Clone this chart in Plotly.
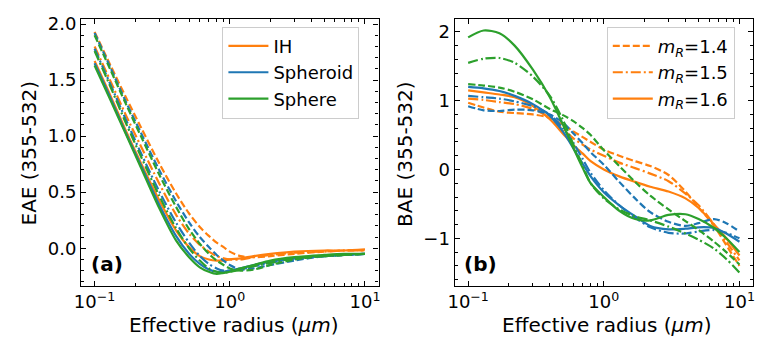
import plotly.graph_objects as go

# ---------------- data ----------------
r_a = [0.1, 0.13, 0.17, 0.22, 0.3, 0.4, 0.5, 0.6, 0.7, 0.8, 0.9, 1.0, 1.2, 1.5, 2, 3, 5, 7, 10]

eae_ih_14 = [1.93, 1.64, 1.35, 1.08, 0.76, 0.49, 0.31, 0.19, 0.11, 0.05, 0.01, -0.03, -0.07, -0.08, -0.07, -0.05, -0.03, -0.02, -0.02]
eae_ih_15 = [1.80, 1.50, 1.19, 0.91, 0.58, 0.30, 0.13, 0.03, -0.03, -0.07, -0.09, -0.10, -0.10, -0.08, -0.06, -0.04, -0.03, -0.02, -0.02]
eae_ih_16 = [1.67, 1.37, 1.05, 0.76, 0.43, 0.16, 0.01, -0.07, -0.10, -0.11, -0.11, -0.10, -0.09, -0.07, -0.05, -0.03, -0.02, -0.02, -0.01]
eae_sd_14 = [1.92, 1.62, 1.31, 1.03, 0.70, 0.42, 0.23, 0.10, 0.01, -0.06, -0.11, -0.15, -0.19, -0.18, -0.15, -0.11, -0.07, -0.06, -0.05]
eae_sd_15 = [1.78, 1.47, 1.15, 0.85, 0.51, 0.23, 0.05, -0.07, -0.14, -0.18, -0.20, -0.20, -0.19, -0.16, -0.13, -0.09, -0.07, -0.06, -0.05]
eae_sd_16 = [1.65, 1.35, 1.03, 0.74, 0.39, 0.11, -0.05, -0.14, -0.19, -0.21, -0.21, -0.20, -0.18, -0.15, -0.12, -0.09, -0.07, -0.06, -0.05]
eae_sp_14 = [1.90, 1.60, 1.29, 1.00, 0.66, 0.37, 0.17, 0.04, -0.05, -0.11, -0.15, -0.18, -0.20, -0.19, -0.15, -0.10, -0.07, -0.06, -0.05]
eae_sp_15 = [1.76, 1.45, 1.12, 0.82, 0.47, 0.18, 0.00, -0.11, -0.18, -0.21, -0.22, -0.21, -0.19, -0.16, -0.13, -0.09, -0.07, -0.06, -0.05]
eae_sp_16 = [1.63, 1.33, 1.02, 0.72, 0.36, 0.07, -0.08, -0.17, -0.21, -0.23, -0.22, -0.21, -0.18, -0.15, -0.11, -0.08, -0.06, -0.05, -0.05]

r_b = [0.1, 0.13, 0.17, 0.22, 0.3, 0.4, 0.5, 0.6, 0.7, 0.8, 1.0, 1.3, 1.7, 2.2, 3, 4, 5, 6.5, 8, 10]

bae_ih_14 = [0.97, 0.90, 0.84, 0.82, 0.80, 0.75, 0.65, 0.55, 0.47, 0.40, 0.29, 0.20, 0.12, 0.05, -0.08, -0.32, -0.55, -0.82, -1.10, -1.40]
bae_ih_15 = [1.03, 1.01, 0.98, 0.95, 0.88, 0.75, 0.58, 0.45, 0.36, 0.29, 0.20, 0.10, 0.02, -0.06, -0.17, -0.35, -0.52, -0.80, -1.05, -1.32]
bae_ih_16 = [1.15, 1.12, 1.09, 1.05, 0.92, 0.73, 0.52, 0.35, 0.23, 0.12, 0.00, -0.10, -0.18, -0.25, -0.32, -0.42, -0.56, -0.80, -1.00, -1.25]
bae_sd_14 = [0.92, 0.86, 0.85, 0.87, 0.86, 0.80, 0.68, 0.52, 0.38, 0.25, 0.07, -0.18, -0.42, -0.62, -0.76, -0.82, -0.78, -0.72, -0.78, -0.90]
bae_sd_15 = [1.07, 1.05, 1.03, 0.99, 0.92, 0.80, 0.60, 0.38, 0.15, -0.05, -0.30, -0.52, -0.70, -0.84, -0.92, -0.93, -0.90, -0.88, -0.92, -1.00]
bae_sd_16 = [1.20, 1.18, 1.14, 1.07, 0.95, 0.78, 0.55, 0.30, 0.08, -0.10, -0.33, -0.52, -0.68, -0.82, -0.87, -0.86, -0.84, -0.85, -0.93, -1.05]
bae_sp_14 = [1.24, 1.22, 1.19, 1.13, 1.02, 0.88, 0.79, 0.70, 0.60, 0.50, 0.28, 0.05, -0.18, -0.38, -0.58, -0.75, -0.88, -1.05, -1.20, -1.38]
bae_sp_15 = [1.55, 1.61, 1.62, 1.55, 1.35, 1.07, 0.72, 0.35, 0.05, -0.20, -0.42, -0.58, -0.68, -0.74, -0.83, -0.93, -1.02, -1.15, -1.30, -1.50]
bae_sp_16 = [1.92, 2.02, 1.98, 1.80, 1.45, 1.05, 0.65, 0.30, 0.02, -0.20, -0.40, -0.60, -0.72, -0.74, -0.66, -0.65, -0.72, -0.85, -1.00, -1.20]

shape_names = ["IH", "Spheroid", "Sphere"]
mr_names = ["<i>m</i><sub><i>R</i></sub>=1.4", "<i>m</i><sub><i>R</i></sub>=1.5", "<i>m</i><sub><i>R</i></sub>=1.6"]

# ---------------- style ----------------
colors = ["#ff7f0e", "#1f77b4", "#2ca02c"]
dashes = ["7px,3px", "10px,3px,2px,3px", "solid"]
FONT = "DejaVu Sans"

eae = [[eae_ih_14, eae_ih_15, eae_ih_16],
       [eae_sd_14, eae_sd_15, eae_sd_16],
       [eae_sp_14, eae_sp_15, eae_sp_16]]
bae = [[bae_ih_14, bae_ih_15, bae_ih_16],
       [bae_sd_14, bae_sd_15, bae_sd_16],
       [bae_sp_14, bae_sp_15, bae_sp_16]]

fig = go.Figure()

for i in range(3):
    for j in range(3):
        fig.add_trace(go.Scatter(
            x=r_a, y=eae[i][j], mode="lines", xaxis="x", yaxis="y",
            line=dict(color=colors[i], width=2.2, dash=dashes[j], shape="spline", smoothing=0.8),
            name=shape_names[i], showlegend=(j == 2), legend="legend"))
for i in range(3):
    for j in range(3):
        fig.add_trace(go.Scatter(
            x=r_b, y=bae[i][j], mode="lines", xaxis="x2", yaxis="y2",
            line=dict(color=colors[i], width=2.2, dash=dashes[j], shape="spline", smoothing=0.8),
            name=mr_names[j], showlegend=(i == 0), legend="legend2"))

minor_x = [0.2, 0.3, 0.4, 0.5, 0.6, 0.7, 0.8, 0.9, 2, 3, 4, 5, 6, 7, 8, 9]

def xaxis_cfg(domain, anchor):
    return dict(
        type="log", domain=domain, anchor=anchor, range=[-1.1, 1.1],
        showline=True, linecolor="black", linewidth=1.2, mirror="allticks",
        ticks="inside", ticklen=5, tickwidth=1, tickcolor="black",
        tickmode="array", tickvals=[0.1, 1, 10],
        ticktext=["10<sup>−1</sup>", "10<sup>0</sup>", "10<sup>1</sup>"],
        tickfont=dict(family=FONT, size=18, color="black"),
        minor=dict(tickmode="array", tickvals=minor_x, ticks="inside", ticklen=3,
                   tickwidth=1, tickcolor="black", showgrid=False),
        showgrid=False, zeroline=False)

def yaxis_cfg(domain, anchor, rng, vals, texts, minor_vals):
    return dict(
        domain=domain, anchor=anchor, range=rng,
        showline=True, linecolor="black", linewidth=1.2, mirror="allticks",
        ticks="inside", ticklen=5, tickwidth=1, tickcolor="black",
        tickmode="array", tickvals=vals, ticktext=texts,
        tickfont=dict(family=FONT, size=18, color="black"),
        minor=dict(tickmode="array", tickvals=minor_vals, ticks="inside", ticklen=3,
                   tickwidth=1, tickcolor="black", showgrid=False),
        showgrid=False, zeroline=False)

ydom = [0.1568, 0.9586]
yminor_a = [v / 10 for v in range(-3, 21)]
yminor_b = [v / 5 for v in range(-8, 11)]

def ann(text, x, y, size=20, angle=0):
    return dict(text=text, x=x, y=y, xref="paper", yref="paper", xanchor="center",
                yanchor="middle", textangle=angle, showarrow=False,
                font=dict(family=FONT, size=size, color="black"))

leg_common = dict(yanchor="top", xanchor="left", bgcolor="rgba(255,255,255,0.8)",
                  bordercolor="#cccccc", borderwidth=1, itemwidth=40,
                  font=dict(family=FONT, size=18, color="black"), tracegroupgap=0)

fig.update_layout(
    width=758, height=338,
    margin=dict(l=0, r=0, t=0, b=0),
    paper_bgcolor="white", plot_bgcolor="white",
    font=dict(family=FONT, size=18, color="black"),
    xaxis=xaxis_cfg([0.0989, 0.496], "y"),
    yaxis=yaxis_cfg(ydom, "x", [-0.335, 2.047], [0, 0.5, 1.0, 1.5, 2.0],
                    ["0.0", "0.5", "1.0", "1.5", "2.0"], yminor_a),
    xaxis2=xaxis_cfg([0.5976, 0.996], "y2"),
    yaxis2=yaxis_cfg(ydom, "x2", [-1.69, 2.19], [-1, 0, 1, 2],
                     ["−1", "0", "1", "2"], yminor_b),
    legend=dict(x=218 / 758, y=1 - 22 / 338, **leg_common),
    legend2=dict(x=607 / 758, y=1 - 22 / 338, **leg_common),
    annotations=[
        ann("EAE (355-532)", 22 / 758, 1 - 151 / 338, angle=-90),
        ann("BAE (355-532)", 403 / 758, 1 - 151 / 338, angle=-90),
        ann("Effective radius (<i>μm</i>)", 230 / 758, 1 - 325 / 338),
        ann("Effective radius (<i>μm</i>)", 607 / 758, 1 - 325 / 338),
        ann("<b>(a)</b>", 101 / 758, 1 - 263 / 338),
        ann("<b>(b)</b>", 479 / 758, 1 - 263 / 338),
    ],
)

fig.write_html("out.html")
